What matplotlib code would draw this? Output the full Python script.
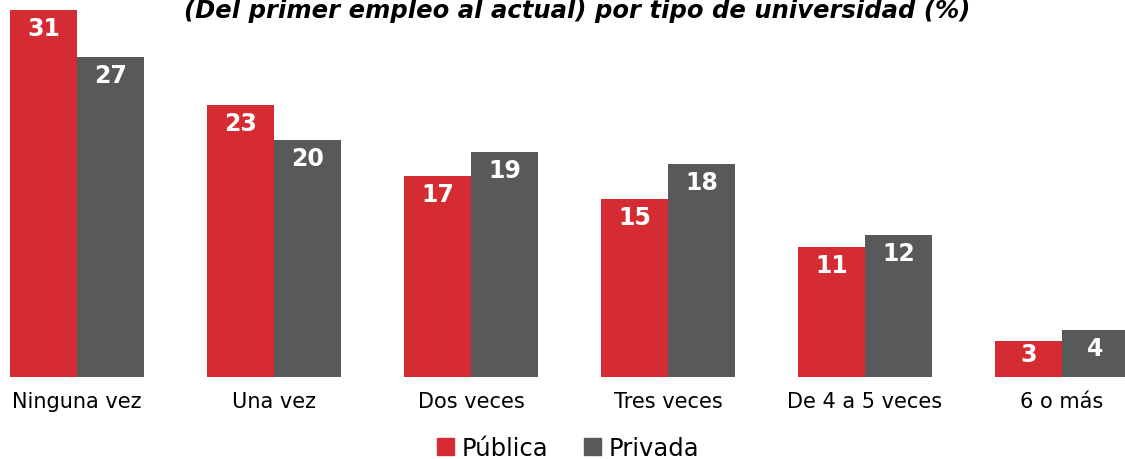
import matplotlib
matplotlib.use("Agg")
import matplotlib.pyplot as plt
from matplotlib.patches import Patch
import numpy as np

categories = ["Ninguna vez", "Una vez", "Dos veces", "Tres veces", "De 4 a 5 veces", "6 o más"]
publica = [31, 23, 17, 15, 11, 3]
privada = [27, 20, 19, 18, 12, 4]
series_names = ["Pública", "Privada"]
title = "(Del primer empleo al actual) por tipo de universidad (%)"

RED = "#d52b32"
GREY = "#58595b"

W, H = 1125, 460
fig = plt.figure(figsize=(W / 100, H / 100), dpi=100)
ax = fig.add_axes([0, 1 - 378 / H, 1, 378 / H])

x = np.arange(len(categories))
bw = 67 / 197
b1 = ax.bar(x - bw / 2, publica, width=bw, color=RED)
b2 = ax.bar(x + bw / 2, privada, width=bw, color=GREY)

ax.set_xlim(-77 / 197, (W - 77) / 197)
ax.set_ylim(0, 378 / 11.84)

for bars, vals in ((b1, publica), (b2, privada)):
    for r, v in zip(bars, vals):
        off = -13 if v > 3 else -9
        ax.annotate(str(v), (r.get_x() + r.get_width() / 2, v), xytext=(0, off),
                    textcoords="offset points", ha="center", va="center",
                    color="white", fontsize=17, fontweight="bold", family="DejaVu Sans")

ax.set_xticks(x)
ax.set_xticklabels(categories, fontsize=15, family="DejaVu Sans")
ax.tick_params(axis="x", length=0, pad=10)
ax.set_yticks([])
for s in ax.spines.values():
    s.set_visible(False)

fig.text(577 / W, 1 - 11 / H, title, ha="center", va="center", fontsize=17.5,
         fontweight="bold", style="italic", family="DejaVu Sans")

handles = [Patch(color=RED), Patch(color=GREY)]
fig.legend(handles, series_names, loc="center", bbox_to_anchor=(568 / W, 1 - 449 / H),
           ncol=2, frameon=False, fontsize=17.5, handlelength=0.7, handleheight=0.7,
           handletextpad=0.3, columnspacing=1.5)

fig.savefig("out.png", dpi=100)
